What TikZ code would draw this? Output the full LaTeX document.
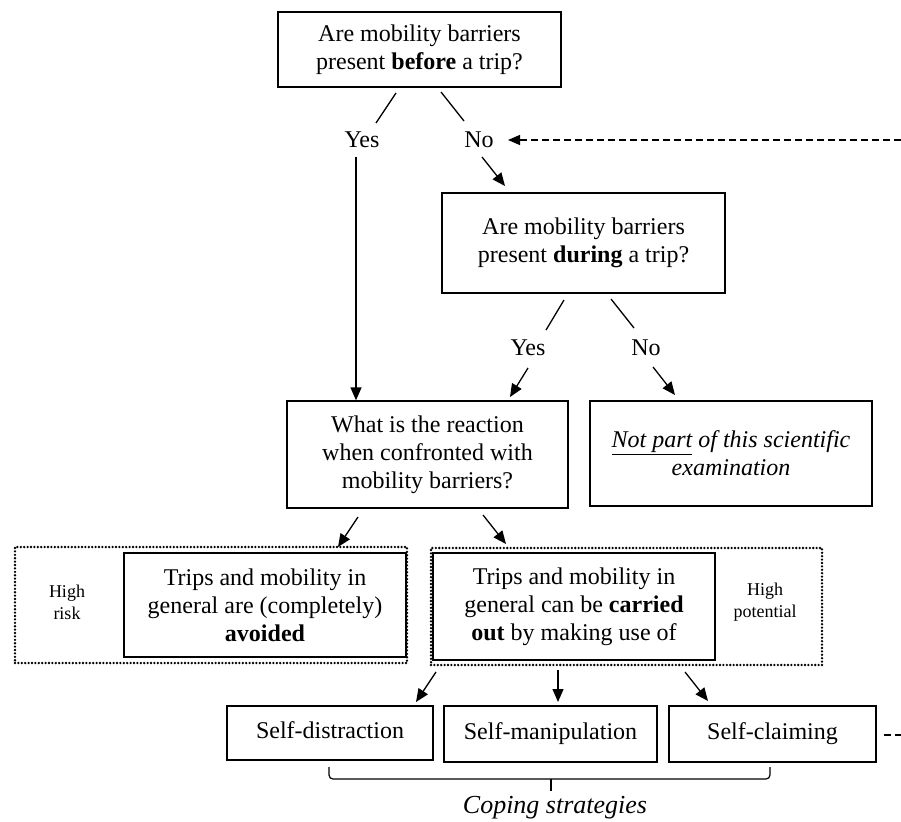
\documentclass[tikz,border=0pt]{standalone}
\usepackage{fontspec}
\setmainfont{Liberation Serif}
\usetikzlibrary{arrows.meta,calc}
\begin{document}
\begin{tikzpicture}[x=1pt,y=-1pt,
  box/.style={draw,line width=1.3pt,inner sep=0pt,align=center,font=\fontsize{24}{28}\selectfont},
  frame/.style={draw,line width=2.6pt,line cap=round,dash pattern=on 0pt off 3.4pt,inner sep=0pt},
  lab/.style={inner sep=0pt,font=\fontsize{24}{28}\selectfont},
  small/.style={inner sep=0pt,align=center,font=\fontsize{18}{22}\selectfont},
  strat/.style={box,text height=16pt,text depth=5pt},
  link/.style={line width=1.3pt},
  arr/.style={line width=1.3pt,-{Triangle[length=13pt,width=11pt]}},
  darr/.style={line width=1.3pt,dash pattern=on 7pt off 4pt,-{Triangle[length=12pt,width=10pt]}},
  dline/.style={line width=1.3pt,dash pattern=on 7pt off 4pt}]
\useasboundingbox (0,0) rectangle (901,821);

% question boxes
\node[box,minimum width=283pt,minimum height=75pt] (b1) at (419.5,49.5)
  {Are mobility barriers\\present \textbf{before} a trip?};
\node[box,minimum width=283pt,minimum height=100pt] (b2) at (583.5,243)
  {Are mobility barriers\\present \textbf{during} a trip?};
\node[box,minimum width=281pt,minimum height=107pt] (b3) at (427.5,454.5)
  {What is the reaction\\when confronted with\\mobility barriers?};
\node[box,minimum width=282pt,minimum height=105pt] (b4) at (731,453.5)
  {\textit{\underline{Not part} of this scientific}\\\textit{examination}};

% labels
\node[lab] (yes1) at (362,140) {Yes};
\node[lab] (no1) at (479,140) {No};
\node[lab] (yes2) at (528,348) {Yes};
\node[lab] (no2) at (646,348) {No};

% dotted frames
\node[frame,minimum width=392pt,minimum height=116pt] (fl) at (211,605) {};
\node[frame,minimum width=391pt,minimum height=117pt] (fr) at (626.5,606.5) {};
\node[box,fill=white,minimum width=282pt,minimum height=104pt] (avoid) at (265,605)
  {Trips and mobility in\\general are (completely)\\\textbf{avoided}};
\node[box,fill=white,minimum width=282pt,minimum height=107pt] (carry) at (574,606.5)
  {Trips and mobility in\\general can be \textbf{carried}\\\textbf{out} by making use of};
\node[small] (risk) at (67,602) {High\\risk};
\node[small] (pot) at (765,602) {High\\potential};

% strategies
\node[strat,minimum width=206pt,minimum height=54pt] (sd) at (330,733) {Self-distraction};
\node[strat,minimum width=213pt,minimum height=56pt] (sm) at (550.5,734) {Self-manipulation};
\node[strat,minimum width=207pt,minimum height=56pt] (scl) at (772.5,734) {Self-claiming};
\node[lab,font=\itshape\fontsize{26}{28}\selectfont] (cope) at (555,808) {Coping strategies};

% connector end points
\coordinate (y1a) at (396,93);  \coordinate (y1b) at (376,123);
\coordinate (n1a) at (441,92);  \coordinate (n1b) at (464,121);
\coordinate (ya) at (356,157);
\coordinate (na) at (482,157);  \coordinate (nb) at (505,186);
\coordinate (dstart) at (901,140); \coordinate (dend) at (508,140);
\coordinate (y2a) at (564,300); \coordinate (y2b) at (546,330);
\coordinate (n2a) at (611,299); \coordinate (n2b) at (634,328);
\coordinate (y2c) at (528,368); \coordinate (y2d) at (510,397);
\coordinate (n2c) at (653,367); \coordinate (n2d) at (675,395);
\coordinate (l1a) at (358,517); \coordinate (l1b) at (338,547);
\coordinate (r1a) at (483,515); \coordinate (r1b) at (506,544);
\coordinate (s1a) at (436,672); \coordinate (s1b) at (416,702);
\coordinate (s2a) at (558,670); \coordinate (s2b) at (558,702);
\coordinate (s3a) at (685,672); \coordinate (s3b) at (708,701);
\coordinate (cend) at (901,735);

% connectors
\draw[link] (y1a) -- (y1b);
\draw[link] (n1a) -- (n1b);
\draw[arr] (ya) -- (ya |- b3.north);
\draw[arr] (na) -- (nb);
\draw[darr] (dstart) -- (dend);
\draw[link] (y2a) -- (y2b);
\draw[link] (n2a) -- (n2b);
\draw[arr] (y2c) -- (y2d);
\draw[arr] (n2c) -- (n2d);
\draw[arr] (l1a) -- (l1b);
\draw[arr] (r1a) -- (r1b);
\draw[arr] (s1a) -- (s1b);
\draw[arr] (s2a) -- (s2b);
\draw[arr] (s3a) -- (s3b);
\draw[dline] ([xshift=7pt]scl.east |- cend) -- (cend);

% brace
\draw[line width=1.2pt,rounded corners=4pt] (329,767) -- (329,779) -- (770,779) -- (770,767);
\draw[line width=1.2pt] (551,779) -- (551,791);
\end{tikzpicture}
\end{document}
